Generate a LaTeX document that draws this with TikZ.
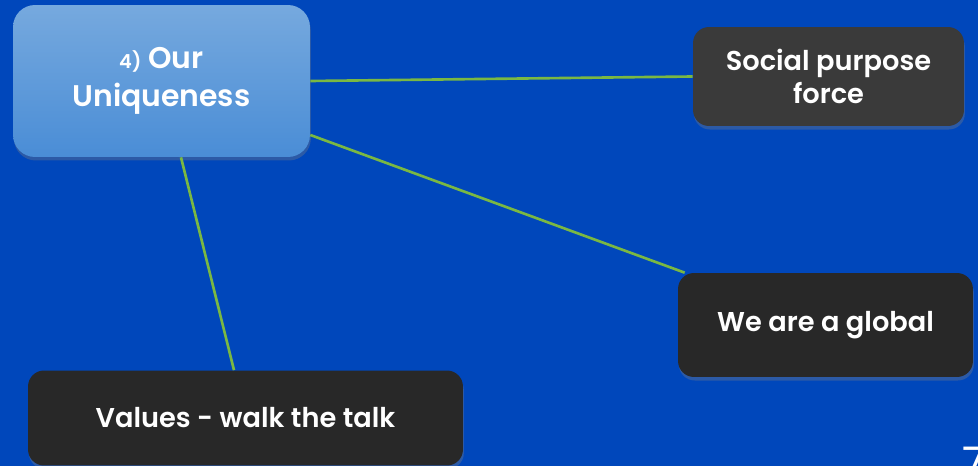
\documentclass[tikz,border=0pt]{standalone}
\usepackage{fontspec}
\setmainfont{Poppins}[BoldFont={Poppins SemiBold}]
\usetikzlibrary{shadows,calc}
\definecolor{slideblue}{RGB}{0,71,187}
\definecolor{topblue}{RGB}{118,169,222}
\definecolor{botblue}{RGB}{74,141,214}
\definecolor{darkbox}{RGB}{40,40,40}
\definecolor{greybox}{RGB}{58,58,58}
\definecolor{linkgreen}{RGB}{122,184,67}
\tikzset{
  topicbox/.style={rounded corners=0.44cm, top color=topblue, bottom color=botblue, text=white, align=center, font=\bfseries\fontsize{17}{21.5}\selectfont,
    drop shadow={opacity=0.35, shadow xshift=0.5pt, shadow yshift=-2pt}},
  ideabox/.style={rounded corners=0.32cm, fill=darkbox, text=white, align=center, font=\bfseries\fontsize{15.5}{19}\selectfont,
    drop shadow={opacity=0.35, shadow xshift=0.5pt, shadow yshift=-2pt}},
  link/.style={draw=linkgreen, line width=1.5pt}
}
\begin{document}
\begin{tikzpicture}[x=0.02cm, y=-0.02cm]
  \fill[slideblue] (0,0) rectangle (978,466);
  \useasboundingbox (0,0) rectangle (978,466);
  % Nodes
  \node[topicbox, minimum width=5.94cm, minimum height=3.04cm](M) at (161.5,81) {{\fontsize{11}{13}\selectfont 4)} Our\\Uniqueness};
  \node[ideabox, fill=greybox, minimum width=5.42cm, minimum height=1.98cm](S) at (828.5,76.5) {Social purpose\\force};
  \node[ideabox, minimum width=5.9cm, minimum height=2.08cm](G) at (825.5,325) {We are a global};
  \node[ideabox, minimum width=8.7cm, minimum height=1.9cm](V) at (245.5,418) {Values - walk the talk};
  \node[text=white, anchor=north west, inner sep=0pt, font=\fontsize{24}{28}\selectfont](P) at (962,447) {7};
  % Edges
  \draw[link] (M.east) -- (S.west);
  \draw[link] ([yshift=-1.08cm]M.east) -- ([xshift=0.14cm]G.north west);
  \draw[link] ([xshift=0.39cm]M.south) -- ([xshift=-0.23cm]V.north);
\end{tikzpicture}
\end{document}
